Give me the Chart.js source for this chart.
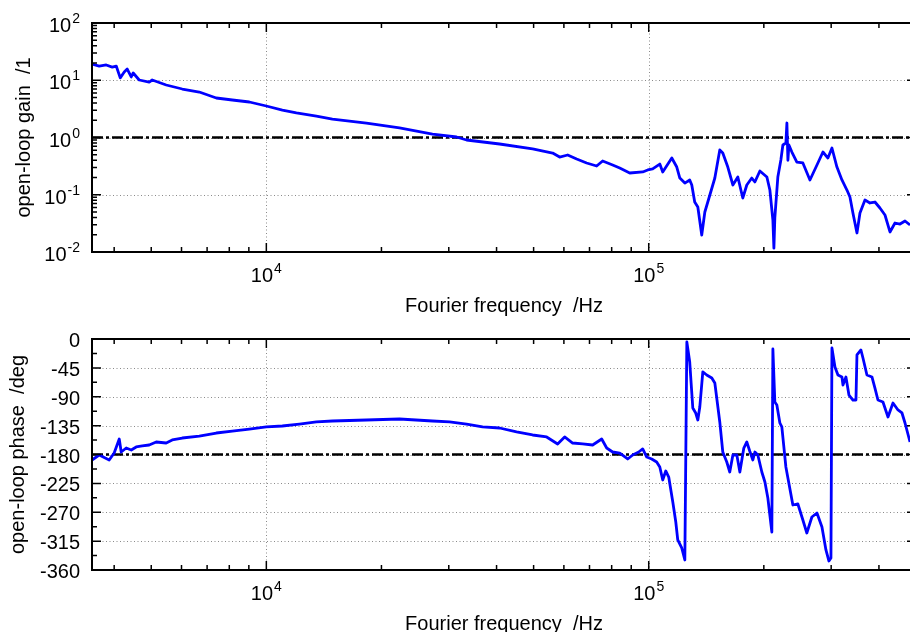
<!DOCTYPE html>
<html>
<head>
<meta charset="utf-8">
<title>Open-loop transfer function</title>
<script src="https://cdn.jsdelivr.net/npm/chart.js@4.4.1/dist/chart.umd.min.js"></script>
<style>
  html, body { margin: 0; padding: 0; background: #fff; overflow: hidden; }
  #wrap { position: relative; width: 910px; height: 632px; overflow: hidden; }
  #wrap canvas { position: absolute; left: 0; }
</style>
</head>
<body>
<div id="wrap">
  <canvas id="gainChart" width="920" height="316" style="top:0"></canvas>
  <canvas id="phaseChart" width="920" height="316" style="top:316px"></canvas>
</div>
<script>
// Frequency axis range and decade labels
const FREQ_MIN = 3500;
const FREQ_MAX = 500000;
const freqDecades = [4, 5];

// Gain axis (log) decades and phase axis ticks
const gainDecades = [-2, -1, 0, 1, 2];
const phaseTicks = [0, -45, -90, -135, -180, -225, -270, -315, -360];

// Reference levels: unity gain and -180 deg phase
const unityGain = 1;
const phaseRef = -180;

// Measured open-loop gain /1 versus Fourier frequency /Hz
const gainFreq = [3500,3655,3813,3954,4050,4149,4250,4327,4433,4486,4651,4939,5030,5472,6028,6677,7398,8147,9026,10000,
  11013,11982,13518,14887,18273,22292,27199,31440,33390,40733,49700,56070,58480,61380,64790,68810,73080,75770,80470,83980,
  89190,96450,99400,102400,106900,108800,114900,118400,120600,124300,128000,129600,131900,134400,137600,140200,144500,148900,153400,156200,
  161000,166000,171000,176200,180500,186000,189500,195300,203700,207400,211200,212500,213700,217600,221600,224300,228400,229800,231200,232600,
  236800,244000,253000,264000,275400,285500,294200,301400,310600,320100,329900,335900,342000,350400,356800,367700,378900,390500,402400,414800,
  427500,440600,454100,468000,482300];
const gain = [19.2,17.7,18.5,17.0,17.7,11.0,13.9,15.7,11.4,13.4,10.1,9.3,10.1,8.26,7.03,6.23,4.90,4.52,4.17,3.55,
  3.02,2.68,2.37,2.10,1.79,1.47,1.15,1.02,0.904,0.770,0.630,0.536,0.456,0.495,0.421,0.359,0.318,0.389,0.331,0.293,
  0.240,0.250,0.271,0.282,0.344,0.250,0.438,0.305,0.196,0.160,0.181,0.148,0.0747,0.0611,0.0198,0.0500,0.0990,0.196,0.605,0.536,
  0.305,0.148,0.204,0.0877,0.148,0.196,0.167,0.260,0.204,0.121,0.0362,0.0117,0.0393,0.204,0.405,0.740,0.802,1.79,0.40,0.740,
  0.558,0.373,0.359,0.181,0.331,0.558,0.438,0.656,0.305,0.181,0.121,0.0913,0.0480,0.0215,0.0480,0.0810,0.0718,0.0747,0.0587,0.0443,
  0.0224,0.0321,0.0308,0.0348,0.0296];

// Measured open-loop phase /deg versus Fourier frequency /Hz
const phaseFreq = [3500,3655,3882,4000,4124,4173,4301,4433,4567,4736,4939,5152,5472,5674,6028,6677,7398,8147,9026,10000,
  11013,12200,13518,14887,18273,22292,27199,30140,33390,36770,40733,45120,49700,54080,57780,60270,63240,67170,71340,75340,
  77640,80470,83980,88100,90800,94150,96450,98810,101800,104900,106900,108800,110800,112800,115600,117700,119100,122000,124300,125800,
  128000,130400,132700,134400,136000,138500,141800,146200,148900,153400,156200,160000,162900,166000,170000,173100,177300,180500,183800,187200,
  189500,192900,197600,201300,204900,209900,211200,213700,216300,220300,222900,228400,231200,238200,245500,253000,259100,267100,275400,283800,
  290700,296000,299600,301400,306900,312500,320100,322100,327900,333900,342000,348300,350400,358900,363300,372100,383500,390500,397600,409800,
  422400,435300,448600,459500,468000,482300];
const phase = [-188.6,-180.8,-188.6,-177.7,-155.8,-176.1,-169.9,-173.0,-168.3,-166.7,-165.2,-160.5,-162.1,-157.4,-154.3,-151.2,-146.5,-143.4,-140.3,-137.1,
  -135.6,-132.5,-129.3,-127.8,-126.2,-124.7,-127.8,-129.3,-132.5,-137.1,-138.7,-144.9,-149.6,-152.7,-163.6,-152.7,-162.1,-163.6,-165.2,-155.8,
  -169.9,-176.1,-177.7,-187.0,-180.8,-176.1,-171.4,-183.9,-187.0,-191.7,-199.5,-219.7,-205.7,-215.1,-254.0,-285.2,-313.2,-325.7,-344.4,-4.7,
  -35.8,-107.5,-115.3,-126.2,-106.0,-51.4,-56.1,-60.8,-68.6,-129.3,-176.1,-191.7,-207.3,-180.8,-180.8,-207.3,-169.9,-160.5,-175.0,-188.6,
  -176.1,-180.8,-207.3,-222.9,-247.8,-300.8,-15.6,-98.2,-102.9,-130.9,-137.1,-199.5,-216.6,-258.7,-257.1,-282.1,-302.3,-277.4,-271.2,-293.0,
  -328.8,-346.0,-341.3,-14.0,-43.6,-56.1,-59.2,-71.7,-59.2,-87.3,-95.1,-95.1,-24.9,-17.1,-29.6,-56.1,-59.2,-76.4,-95.1,-98.2,
  -121.6,-99.7,-110.6,-115.3,-130.9,-160.5];

const FONT = '20px "Liberation Sans", Arial, Helvetica, sans-serif';
const SUP_FONT = '14px "Liberation Sans", Arial, Helvetica, sans-serif';

const toPoints = (xs, ys) => xs.map((f, i) => ({ x: f, y: ys[i] }));

// minor log ticks (2..9 x 10^n) inside [lo, hi]
function logMinors(lo, hi) {
  const out = [];
  for (let e = Math.floor(Math.log10(lo)); e <= Math.ceil(Math.log10(hi)); e++) {
    for (let m = 2; m <= 9; m++) {
      const v = m * Math.pow(10, e);
      if (v > lo && v < hi) out.push(v);
    }
  }
  return out;
}

// "10" with a raised exponent
function drawPower(ctx, exp, x, baseline, align) {
  ctx.font = FONT;
  const wb = ctx.measureText('10').width;
  ctx.font = SUP_FONT;
  const we = ctx.measureText(String(exp)).width;
  const total = wb + 1 + we;
  const x0 = align === 'right' ? x - total : x - total / 2;
  ctx.textAlign = 'left';
  ctx.textBaseline = 'alphabetic';
  ctx.font = FONT;
  ctx.fillText('10', x0, baseline);
  ctx.font = SUP_FONT;
  ctx.fillText(String(exp), x0 + wb + 1, baseline - 9);
}

// Grid, frame, ticks and labels drawn from the chart's own scales
const framePlugin = {
  id: 'frame',
  beforeDatasetsDraw(chart, args, o) {
    const { ctx, chartArea: a, scales: { x, y } } = chart;
    ctx.save();
    ctx.strokeStyle = '#8a8a8a';
    ctx.lineWidth = 1;
    ctx.setLineDash([1, 2.5]);
    ctx.beginPath();
    freqDecades.forEach(e => {
      const px = Math.round(x.getPixelForValue(Math.pow(10, e))) + 0.5;
      ctx.moveTo(px, a.top); ctx.lineTo(px, a.bottom);
    });
    o.yGrid.forEach(v => {
      const py = Math.round(y.getPixelForValue(v)) + 0.5;
      ctx.moveTo(a.left, py); ctx.lineTo(a.right, py);
    });
    ctx.stroke();
    ctx.restore();
  },
  afterDatasetsDraw(chart, args, o) {
    const { ctx, chartArea: a, scales: { x, y } } = chart;
    ctx.save();
    ctx.setLineDash([]);
    ctx.strokeStyle = '#000';
    ctx.fillStyle = '#000';

    // ticks
    ctx.lineWidth = 1.5;
    ctx.beginPath();
    const xMaj = freqDecades.map(e => Math.pow(10, e));
    const xMin = logMinors(FREQ_MIN, FREQ_MAX);
    [[xMaj, 9], [xMin, 5]].forEach(([vals, len]) => vals.forEach(v => {
      const px = x.getPixelForValue(v);
      ctx.moveTo(px, a.top); ctx.lineTo(px, a.top + len);
      ctx.moveTo(px, a.bottom); ctx.lineTo(px, a.bottom - len);
    }));
    [[o.yMajor, 9], [o.yMinor, 5]].forEach(([vals, len]) => vals.forEach(v => {
      const py = y.getPixelForValue(v);
      ctx.moveTo(a.left, py); ctx.lineTo(a.left + len, py);
      ctx.moveTo(a.right, py); ctx.lineTo(a.right - len, py);
    }));
    ctx.stroke();

    // frame
    ctx.lineWidth = 2;
    ctx.strokeRect(a.left, a.top, a.right - a.left, a.bottom - a.top);

    // x tick labels
    freqDecades.forEach(e => drawPower(ctx, e, x.getPixelForValue(Math.pow(10, e)), a.bottom + 30, 'center'));

    // y tick labels
    o.yMajor.forEach(v => {
      const py = y.getPixelForValue(v);
      if (o.logY) {
        drawPower(ctx, Math.round(Math.log10(v)), 80, py + 9, 'right');
      } else {
        ctx.font = FONT;
        ctx.textAlign = 'right';
        ctx.textBaseline = 'alphabetic';
        ctx.fillText(String(v), 80, py + 8);
      }
    });

    // axis titles
    ctx.font = FONT;
    ctx.textAlign = 'center';
    ctx.textBaseline = 'alphabetic';
    ctx.fillText('Fourier frequency  /Hz', (a.left + a.right) / 2, a.bottom + 60);
    ctx.translate(o.titleX, (a.top + a.bottom) / 2);
    ctx.rotate(-Math.PI / 2);
    ctx.fillText(o.yTitle, 0, 0);
    ctx.restore();
  }
};

const baseOptions = (yScale, bottomPad, frame) => ({
  responsive: false,
  animation: false,
  devicePixelRatio: 1,
  layout: { padding: { left: 92, right: 4, top: 23, bottom: bottomPad } },
  scales: {
    x: { type: 'logarithmic', min: FREQ_MIN, max: FREQ_MAX, display: false },
    y: Object.assign({ display: false }, yScale)
  },
  plugins: { legend: { display: false }, tooltip: { enabled: false }, frame }
});

const traceStyle = { borderColor: '#0000ff', borderWidth: 2.8, pointRadius: 0, tension: 0, fill: false, order: 0, borderJoinStyle: 'round' };
const refStyle = { borderColor: '#000', borderWidth: 2.4, borderDash: [11, 3, 3, 3], pointRadius: 0, fill: false, order: 1 };

const gainMinors = logMinors(0.01, 100);
new Chart(document.getElementById('gainChart'), {
  type: 'line',
  data: {
    datasets: [
      Object.assign({ label: 'open-loop gain', data: toPoints(gainFreq, gain) }, traceStyle),
      Object.assign({ label: 'unity gain', data: toPoints([FREQ_MIN, FREQ_MAX], [unityGain, unityGain]) }, refStyle)
    ]
  },
  options: baseOptions({ type: 'logarithmic', min: 0.01, max: 100 }, 64, {
    logY: true,
    yMajor: gainDecades.map(e => Math.pow(10, e)),
    yMinor: gainMinors,
    yGrid: [10, 1, 0.1],
    yTitle: 'open-loop gain  /1',
    titleX: 30
  }),
  plugins: [framePlugin]
});

const phaseMinors = phaseTicks.slice(1).map(v => v + 22.5);
new Chart(document.getElementById('phaseChart'), {
  type: 'line',
  data: {
    datasets: [
      Object.assign({ label: 'open-loop phase', data: toPoints(phaseFreq, phase) }, traceStyle),
      Object.assign({ label: '-180 deg', data: toPoints([FREQ_MIN, FREQ_MAX], [phaseRef, phaseRef]) }, refStyle)
    ]
  },
  options: baseOptions({ type: 'linear', min: -360, max: 0 }, 62, {
    logY: false,
    yMajor: phaseTicks,
    yMinor: phaseMinors,
    yGrid: phaseTicks.slice(1, -1),
    yTitle: 'open-loop phase  /deg',
    titleX: 24
  }),
  plugins: [framePlugin]
});
</script>
</body>
</html>
